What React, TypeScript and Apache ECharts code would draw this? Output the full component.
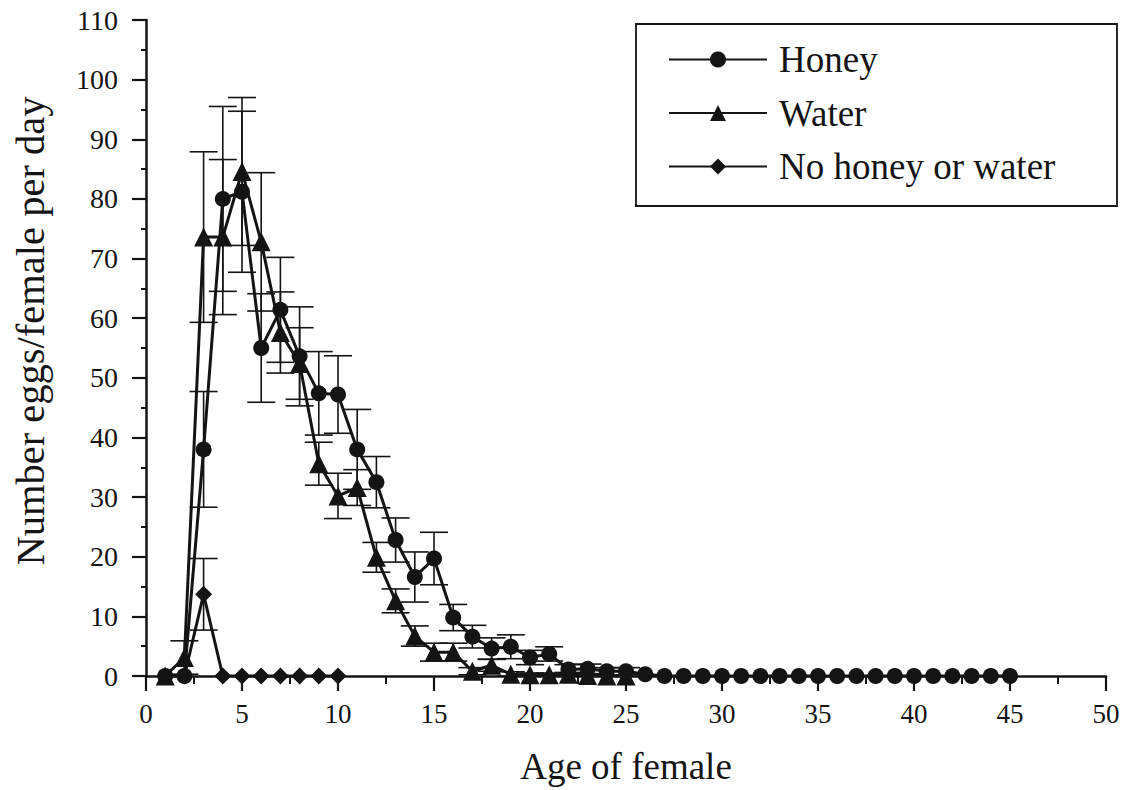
import React, { useEffect, useRef } from "react";
import * as echarts from "echarts";

const honeyAges = [1,2,3,4,5,6,7,8,9,10,11,12,13,14,15,16,17,18,19,20,21,22,23,24,25,26,27,28,29,30,31,32,33,34,35,36,37,38,39,40,41,42,43,44,45];
const honeyVals = [0,0,38,80,81.2,55,61.4,53.6,47.4,47.2,38,32.5,22.8,16.6,19.7,9.8,6.6,4.6,4.9,3.1,3.7,1.1,1.2,0.8,0.8,0.3,0,0,0,0,0,0,0,0,0,0,0,0,0,0,0,0,0,0,0];
const honeyErr = [0,0,9.7,15.5,13.5,9.1,8.8,8.3,7,6.5,6.7,4.3,3.7,4.2,4.4,2.2,1.9,1.8,2,1.2,1.2,0.8,0.8,0.6,0.6,0,0,0,0,0,0,0,0,0,0,0,0,0,0,0,0,0,0,0,0];

const waterAges = [1,2,3,4,5,6,7,8,9,10,11,12,13,14,15,16,17,18,19,20,21,22,23,24,25];
const waterVals = [0,3.1,73.6,73.6,84.6,72.8,57.6,52.4,35.6,30.2,31.6,19.9,12.6,6.7,4,4,0.8,1.8,0.3,0.2,0.2,0.3,0.1,0,0];
const waterErr = [0,2.8,14.3,13,12.4,11.6,6.8,6,3.6,3.8,3,2.5,2,1.7,1.5,1.5,0.6,1,0.4,0.3,0.3,0.3,0,0,0];

const noneAges = [1,2,3,4,5,6,7,8,9,10];
const noneVals = [0,0,13.7,0,0,0,0,0,0,0];
const noneErr = [0,0,6,0,0,0,0,0,0,0];

const seriesNames = ["Honey", "Water", "No honey or water"];
const xTitle = "Age of female";
const yTitle = "Number eggs/female per day";

const FONT = "'Liberation Serif', 'Times New Roman', serif";
const INK = "#141414";

function pairs(xs: number[], ys: number[]) {
  return xs.map((x, i) => [x, ys[i]]);
}
function errTriples(xs: number[], ys: number[], es: number[]) {
  return xs.map((x, i) => [x, ys[i], es[i]]).filter((d) => d[2] > 0);
}

const renderErr = (params: any, api: any) => {
  const x = api.value(0);
  const y = api.value(1);
  const e = api.value(2);
  const top = api.coord([x, y + e]);
  const bot = api.coord([x, Math.max(0, y - e)]);
  const hw = 14;
  const st = { stroke: INK, lineWidth: 1.6 };
  return {
    type: "group",
    children: [
      { type: "line", shape: { x1: top[0], y1: top[1], x2: bot[0], y2: bot[1] }, style: st },
      { type: "line", shape: { x1: top[0] - hw, y1: top[1], x2: top[0] + hw, y2: top[1] }, style: st },
      { type: "line", shape: { x1: bot[0] - hw, y1: bot[1], x2: bot[0] + hw, y2: bot[1] }, style: st },
    ],
  };
};

export default function App() {
  const ref = useRef<HTMLDivElement>(null);
  useEffect(() => {
    if (!ref.current) return;
    const chart = echarts.init(ref.current, undefined, { renderer: "svg" });
    const lineStyle = { color: INK, width: 3 };
    chart.setOption({
      animation: false,
      backgroundColor: "#ffffff",
      grid: { left: 146, right: 26, top: 20, bottom: 113 },
      graphic: [
        {
          type: "rect",
          shape: { x: 636, y: 24, width: 481, height: 182 },
          style: { fill: "#fff", stroke: INK, lineWidth: 1.8 },
          z: 10,
        },
        {
          type: "text",
          x: 30,
          y: 331,
          rotation: Math.PI / 2,
          style: {
            text: yTitle,
            font: "40.5px " + FONT,
            fill: INK,
            align: "center",
            verticalAlign: "middle",
          },
          z: 10,
        },
      ],
      legend: {
        orient: "vertical",
        left: 663,
        top: 36,
        itemWidth: 98,
        itemHeight: 20,
        itemGap: 16.5,
        z: 20,
        textStyle: { fontFamily: FONT, fontSize: 37, color: INK, padding: [0, 0, 0, 7] },
        lineStyle: { width: 2 },
        data: seriesNames,
      },
      xAxis: {
        type: "value",
        min: 0,
        max: 50,
        interval: 5,
        name: xTitle,
        nameLocation: "middle",
        nameGap: 72,
        nameTextStyle: { fontFamily: FONT, fontSize: 37, color: INK },
        axisLine: { show: true, lineStyle: { color: INK, width: 2.5 } },
        axisTick: { show: true, inside: false, length: 15, lineStyle: { color: INK, width: 2.2 } },
        minorTick: { show: true, splitNumber: 2, length: 8, lineStyle: { color: INK, width: 2 } },
        axisLabel: { fontFamily: FONT, fontSize: 27, color: INK, margin: 24 },
        splitLine: { show: false },
      },
      yAxis: {
        type: "value",
        min: 0,
        max: 110,
        interval: 10,
        axisLine: { show: true, lineStyle: { color: INK, width: 2.5 } },
        axisTick: { show: true, inside: false, length: 14, lineStyle: { color: INK, width: 2.2 } },
        minorTick: { show: true, splitNumber: 2, length: 5, lineStyle: { color: INK, width: 2 } },
        axisLabel: { fontFamily: FONT, fontSize: 28, color: INK, margin: 28 },
        splitLine: { show: false },
      },
      series: [
        {
          type: "custom",
          name: "errHoney",
          renderItem: renderErr,
          data: errTriples(honeyAges, honeyVals, honeyErr),
          z: 1,
          silent: true,
        },
        {
          type: "custom",
          name: "errWater",
          renderItem: renderErr,
          data: errTriples(waterAges, waterVals, waterErr),
          z: 1,
          silent: true,
        },
        {
          type: "custom",
          name: "errNone",
          renderItem: renderErr,
          data: errTriples(noneAges, noneVals, noneErr),
          z: 1,
          silent: true,
        },
        {
          type: "line",
          name: seriesNames[1],
          data: pairs(waterAges, waterVals),
          symbol: "triangle",
          symbolSize: 19,
          showAllSymbol: true,
          lineStyle,
          itemStyle: { color: INK },
          z: 3,
        },
        {
          type: "line",
          name: seriesNames[0],
          data: pairs(honeyAges, honeyVals),
          symbol: "circle",
          symbolSize: 16,
          showAllSymbol: true,
          lineStyle,
          itemStyle: { color: INK },
          z: 4,
        },
        {
          type: "line",
          name: seriesNames[2],
          data: pairs(noneAges, noneVals),
          symbol: "diamond",
          symbolSize: 17,
          showAllSymbol: true,
          lineStyle,
          itemStyle: { color: INK },
          z: 5,
        },
      ],
    });
    return () => chart.dispose();
  }, []);
  return (
    <div
      ref={ref}
      style={{ position: "absolute", left: 0, top: 0, width: 1132, height: 790 }}
    />
  );
}
